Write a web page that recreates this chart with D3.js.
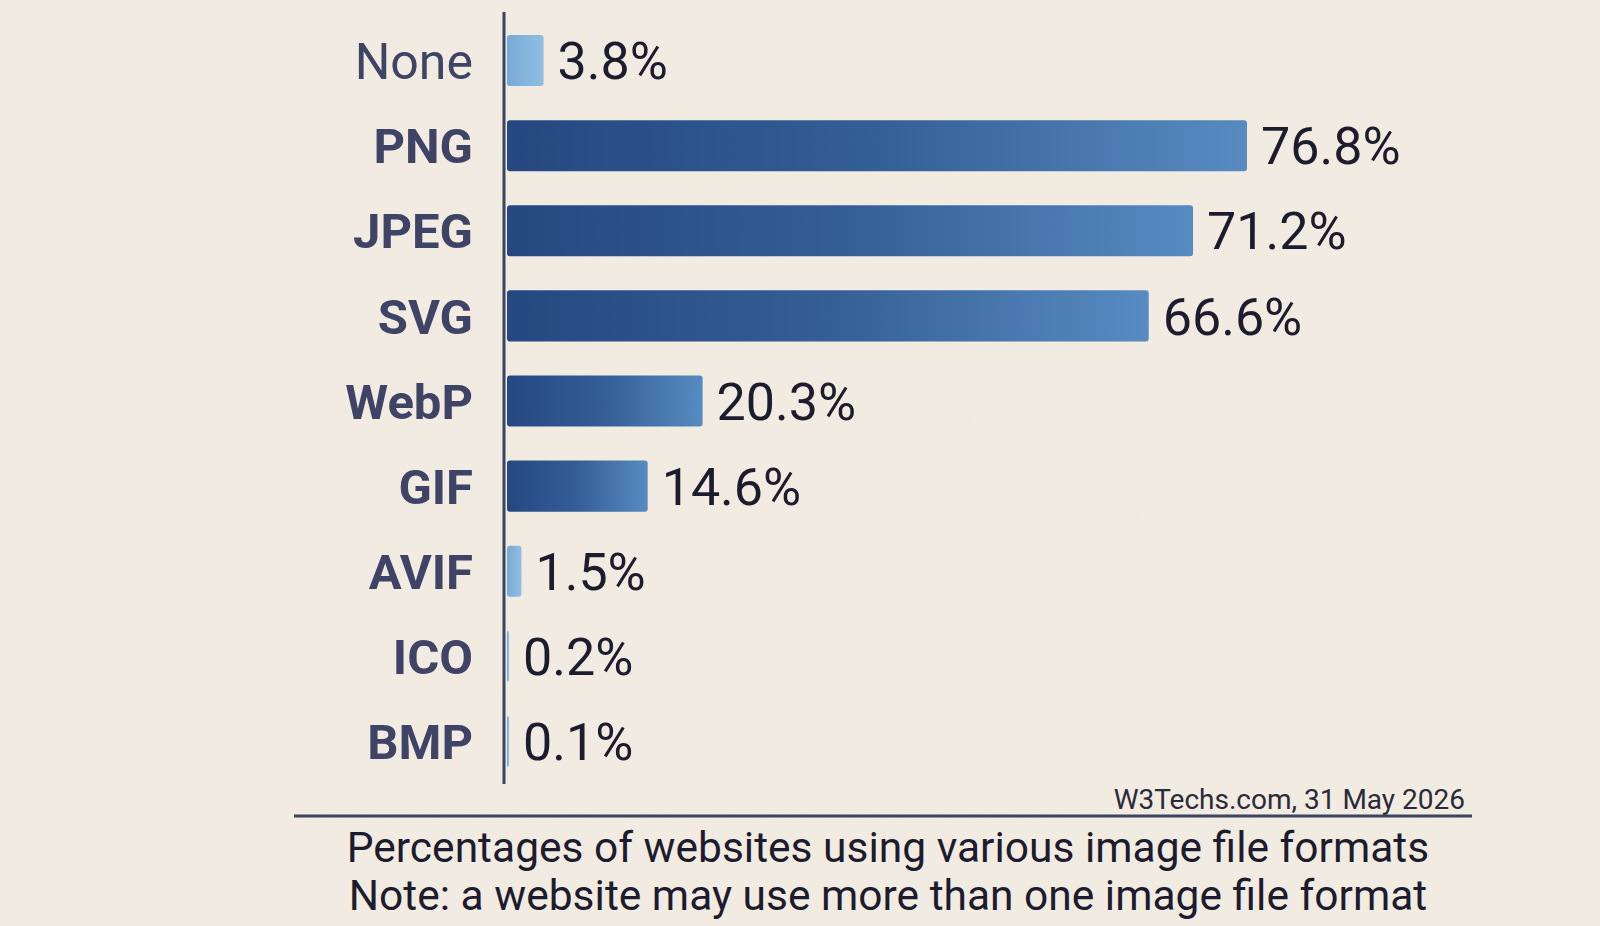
<!DOCTYPE html>
<html><head><meta charset="utf-8">
<script src="https://cdn.jsdelivr.net/npm/d3@7"></script>
<style>body{margin:0;background:#f4eee4;}svg{display:block;}</style>
</head><body>
<script>
const categories = ["None","PNG","JPEG","SVG","WebP","GIF","AVIF","ICO","BMP"];
const values = [3.8,76.8,71.2,66.6,20.3,14.6,1.5,0.2,0.1];
const labels = ["3.8%","76.8%","71.2%","66.6%","20.3%","14.6%","1.5%","0.2%","0.1%"];
const source = "W3Techs.com, 31 May 2026";
const caption = ["Percentages of websites using various image file formats","Note: a website may use more than one image file format"];

const W=1600,H=926;
const svg=d3.select("body").append("svg").attr("width",W).attr("height",H);
const defs=svg.append("defs");
const f=defs.append("filter").attr("id","paper");
f.append("feTurbulence").attr("type","fractalNoise").attr("baseFrequency",0.9).attr("numOctaves",2).attr("result","n");
f.append("feColorMatrix").attr("type","matrix").attr("values","0 0 0 0 0.5  0 0 0 0 0.45  0 0 0 0 0.4  0 0 0 0.07 0");
svg.append("rect").attr("width",W).attr("height",H).attr("fill","#f3ede3");
svg.append("rect").attr("width",W).attr("height",H).attr("filter","url(#paper)");

const g=defs.append("linearGradient").attr("id","wc").attr("x1",0).attr("x2",1);
g.append("stop").attr("offset","0%").attr("stop-color","#1b3f7c");
g.append("stop").attr("offset","50%").attr("stop-color","#2a5792");
g.append("stop").attr("offset","100%").attr("stop-color","#4f86bf");
const g2=defs.append("linearGradient").attr("id","wcl").attr("x1",0).attr("x2",1);
g2.append("stop").attr("offset","0%").attr("stop-color","#6fa6d6");
g2.append("stop").attr("offset","100%").attr("stop-color","#8dbde3");

const x=d3.scaleLinear().domain([0,76.8]).range([507,1247]);
const y=d3.scaleBand().domain(categories).range([18,784]).paddingInner(0.4).paddingOuter(0.2);

svg.append("line").attr("x1",504).attr("x2",504).attr("y1",12).attr("y2",784)
 .attr("stroke","#3a4560").attr("stroke-width",3);

svg.selectAll(".bar").data(categories).enter().append("rect")
 .attr("x",x(0)).attr("y",d=>y(d)).attr("height",y.bandwidth())
 .attr("width",(d,i)=>Math.max(x(values[i])-x(0),2)).attr("rx",3)
 .attr("fill",(d,i)=>values[i]<5?"url(#wcl)":"url(#wc)").attr("opacity",0.95);

svg.selectAll(".cat").data(categories).enter().append("text")
 .attr("x",473).attr("y",d=>y(d)+y.bandwidth()/2).attr("dy","0.36em")
 .attr("text-anchor","end").attr("font-family","Roboto").attr("font-weight",(d,i)=>i===0?400:700)
 .attr("font-size",(d,i)=>i===0?50:49).attr("fill","#3f4466").text(d=>d);

svg.selectAll(".val").data(categories).enter().append("text")
 .attr("x",(d,i)=>Math.max(x(values[i]),x(0)+2)+14).attr("y",d=>y(d)+y.bandwidth()/2).attr("dy","0.36em")
 .attr("font-family","Roboto").attr("font-size",52).attr("fill","#1c1c2e").text((d,i)=>labels[i]);

svg.append("text").attr("x",1465).attr("y",809).attr("text-anchor","end")
 .attr("font-family","Roboto").attr("font-size",28).attr("fill","#2a2a3a").text(source);
svg.append("line").attr("x1",294).attr("x2",1472).attr("y1",816).attr("y2",816)
 .attr("stroke","#3a4560").attr("stroke-width",3);
caption.forEach((c,i)=>svg.append("text").attr("x",888).attr("y",862+i*48).attr("text-anchor","middle")
 .attr("font-family","Roboto").attr("font-size",42.5).attr("fill","#1c1c2e").text(c));
</script>
</body></html>
